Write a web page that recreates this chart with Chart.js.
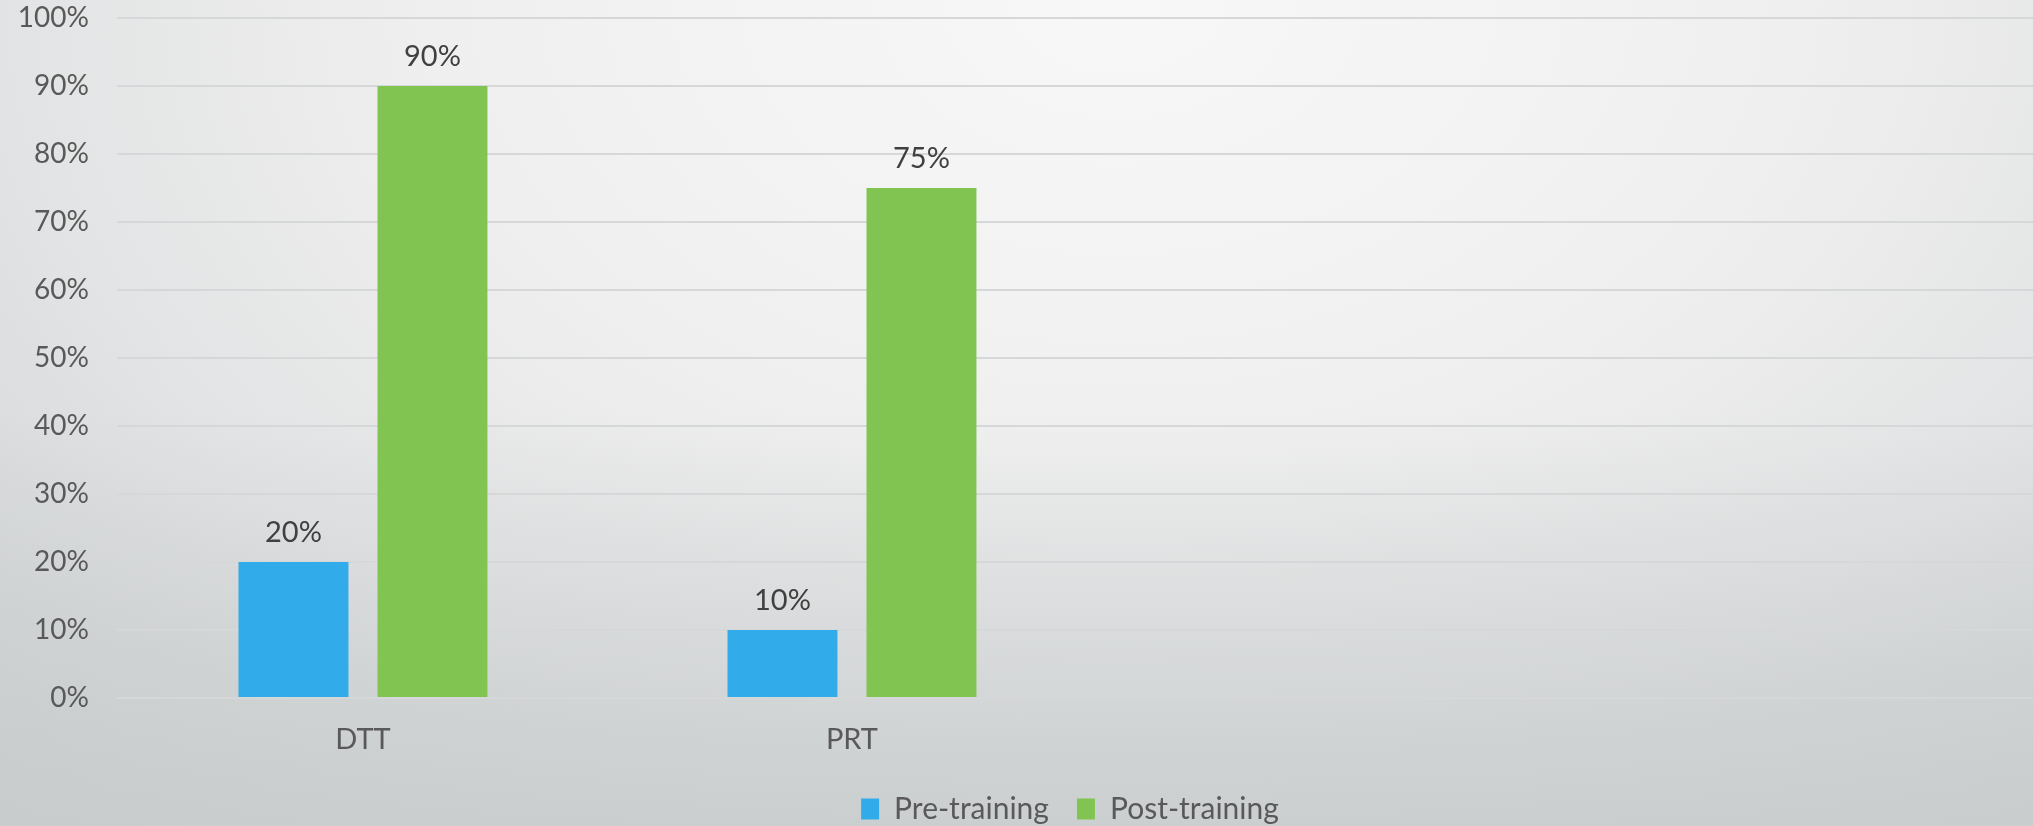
<!DOCTYPE html>
<html>
<head>
<meta charset="utf-8">
<script src="https://cdn.jsdelivr.net/npm/chart.js@4"></script>
<style>
    html, body {
        margin: 0;
        padding: 0;
        width: 2033px;
        height: 826px;
        overflow: hidden;
        background:
            linear-gradient(to bottom, rgba(200, 204, 205, 0) 50%, rgba(200, 204, 205, 0.85) 100%),
            radial-gradient(ellipse 85% 140% at 55% 0%, #f8f8f8 0%, #efefef 40%, #e2e3e4 65%, #c8cccd 100%);
    }
    /* the chart is a little wider/taller than the window, the reference is a crop of it */
    #wrap { position: relative; width: 2140px; height: 834px; }
</style>
</head>
<body>
<div id="wrap"><canvas id="chart"></canvas></div>
<script>
// Data
const categories = ['DTT', 'PRT', '', ''];
const preTraining = [20, 10];
const postTraining = [90, 75];
const yTicks = [0, 10, 20, 30, 40, 50, 60, 70, 80, 90, 100];

const COLORS = {
    pre: '#31abe9',
    post: '#82c451',
    grid: '#d6d7d8',
    tick: '#595959',
    label: '#404040'
};
const FONT = 'Lato, "Open Sans", sans-serif';

// points for the linear x axis (category index -> value)
const toPoints = arr => arr.map((v, i) => ({ x: i, y: v }));

// small inline plugin for the value labels above the bars
const valueLabels = {
    id: 'valueLabels',
    afterDatasetsDraw(chart) {
        const ctx = chart.ctx;
        ctx.save();
        ctx.font = `29px ${FONT}`;
        ctx.fillStyle = COLORS.label;
        ctx.textAlign = 'center';
        ctx.textBaseline = 'middle';
        chart.data.datasets.forEach((ds, di) => {
            chart.getDatasetMeta(di).data.forEach((bar, i) => {
                ctx.fillText(ds.data[i].y + '%', bar.x, bar.y - 29);
            });
        });
        ctx.restore();
    }
};

new Chart(document.getElementById('chart'), {
    type: 'bar',
    data: {
        datasets: [
            { label: 'Pre-training', data: toPoints(preTraining), backgroundColor: COLORS.pre },
            { label: 'Post-training', data: toPoints(postTraining), backgroundColor: COLORS.post }
        ]
    },
    options: {
        responsive: true,
        maintainAspectRatio: false,
        animation: false,
        categoryPercentage: 0.5685,
        barPercentage: 0.791,
        layout: { padding: 0 },
        plugins: {
            tooltip: { enabled: false },
            legend: {
                position: 'bottom',
                labels: {
                    font: { family: FONT, size: 30 },
                    color: COLORS.tick,
                    boxWidth: 18,
                    boxHeight: 21,
                    padding: 28
                }
            }
        },
        scales: {
            x: {
                type: 'linear',
                offset: false,
                min: -0.503,
                max: 3.634,
                grid: { display: false, drawTicks: false },
                border: { display: false },
                afterBuildTicks: axis => {
                    axis.ticks = categories.map((c, i) => ({ value: i }));
                },
                afterFit: axis => { axis.height = 68; },
                ticks: {
                    autoSkip: false,
                    maxRotation: 0,
                    padding: 24,
                    font: { family: FONT, size: 29 },
                    color: COLORS.tick,
                    callback: v => categories[v] ?? ''
                }
            },
            y: {
                min: 0,
                max: 100,
                afterBuildTicks: axis => {
                    axis.ticks = yTicks.map(v => ({ value: v }));
                },
                afterFit: axis => {
                    axis.width = 117;
                    axis.paddingTop = 18;
                    axis.paddingBottom = 0;
                },
                grid: { color: COLORS.grid, lineWidth: 2, drawTicks: false },
                border: { display: false },
                ticks: {
                    padding: 28,
                    font: { family: FONT, size: 28 },
                    color: COLORS.tick,
                    callback: v => v + '%'
                }
            }
        }
    },
    plugins: [valueLabels]
});
</script>
</body>
</html>
